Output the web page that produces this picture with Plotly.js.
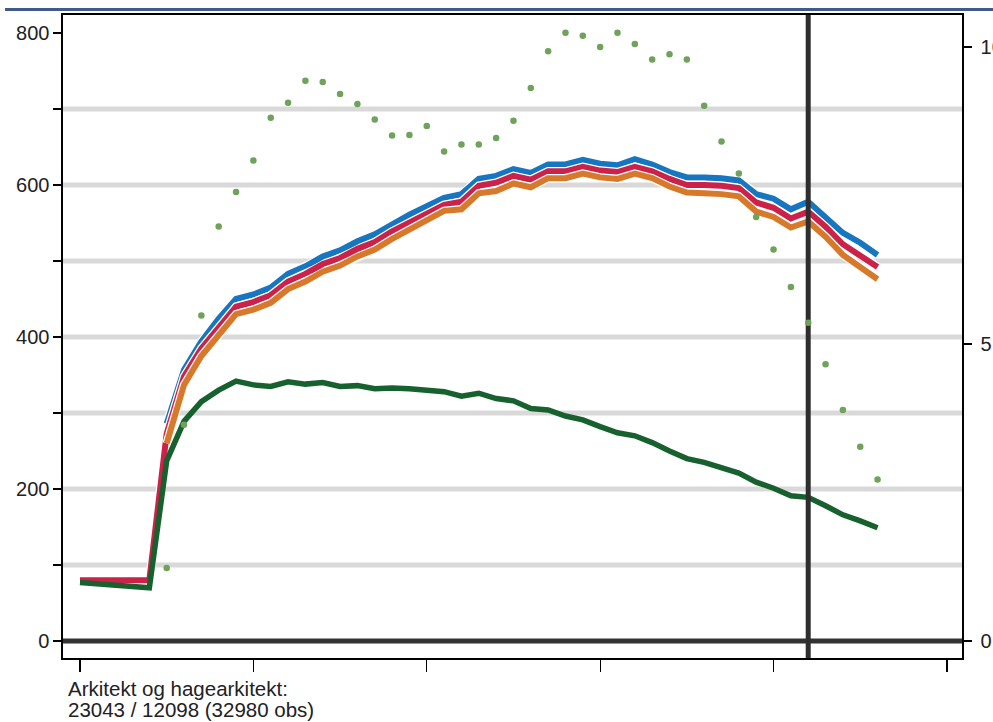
<!DOCTYPE html>
<html>
<head>
<meta charset="utf-8">
<script src="https://cdn.plot.ly/plotly-3.0.1.min.js"></script>
<style>
  html, body { margin: 0; padding: 0; background: #ffffff; }
  #chart { width: 993px; height: 722px; }
</style>
</head>
<body>
<div id="chart"></div>
<script>
// Period index along the horizontal axis
const periodsAll  = [0,1,2,3,4,5,6,7,8,9,10,11,12,13,14,15,16,17,18,19,20,21,22,23,24,25,26,27,28,29,30,31,32,33,34,35,36,37,38,39,40,41,42,43,44,45,46];
const periodsLate = [5,6,7,8,9,10,11,12,13,14,15,16,17,18,19,20,21,22,23,24,25,26,27,28,29,30,31,32,33,34,35,36,37,38,39,40,41,42,43,44,45,46];

// Upper band: three closely spaced series (left axis)
const seriesBlue = [286,357,394,424,450,456,465,483,493,506,514,526,535,549,561,572,583,588,608,612,621,616,627,627,633,628,626,634,627,617,610,610,609,606,588,582,568,578,558,537,524,508];
const seriesRed  = [80,80,80,80,80,
                    273,348,385,414,440,446,455,473,483,496,504,516,525,539,551,562,574,578,599,603,612,607,618,618,624,619,617,624,618,608,600,600,599,596,577,570,556,565,545,522,508,492];
const seriesOrange = [260,337,375,404,430,436,445,463,473,486,494,506,515,529,541,552,566,568,589,592,602,597,609,609,615,610,608,615,609,598,590,589,588,585,565,558,544,552,532,508,493,476];

// Lower series (left axis)
const seriesGreen = [77,75,74,72,70,
                     237,289,315,330,342,337,335,341,338,340,335,336,332,333,332,330,328,322,326,319,316,306,304,296,291,282,274,270,261,250,240,235,228,221,209,201,191,189,178,166,158,149];

// Dotted series (right axis)
const seriesDots = [1.23,3.64,5.48,6.98,7.56,8.09,8.81,9.06,9.43,9.41,9.21,9.04,8.78,8.51,8.52,8.67,8.24,8.36,8.36,8.47,8.76,9.31,9.93,10.24,10.19,10.00,10.24,10.05,9.79,9.88,9.79,9.01,8.41,7.87,7.14,6.59,5.96,5.36,4.66,3.89,3.27,2.72];

// Reference period marked by the vertical rule
const refPeriod = 42;

// Axis ticks and grid
const xTicks = [0,10,20,30,40,50];
const yTicks = [0,200,400,600,800];
const yMinorTicks = [100,300,500,700];
const gridValues = [100,200,300,400,500,600,700];
const y2Ticks = [0,5,10];

// Footnote text
const noteLine1 = 'Arkitekt og hagearkitekt:';
const noteLine2 = '23043 / 12098 (32980 obs)';

const Y_RANGE = [-22.4, 823.7];
const Y2_RANGE = [-0.286, 10.539];
const X_RANGE = [-0.98, 50.87];

const FONT = 'Liberation Sans, Arial, Helvetica, sans-serif';
const LW = 6;
const CASE = 8.5;

function casing(x, y) {
  return { x: x, y: y, type: 'scatter', mode: 'lines', hoverinfo: 'skip', showlegend: false,
           line: { color: '#ffffff', width: CASE, shape: 'linear' } };
}
function band(x, y, color, w) {
  return { x: x, y: y, type: 'scatter', mode: 'lines', showlegend: false,
           line: { color: color, width: w || LW, shape: 'linear' } };
}

const traces = [
  casing(periodsLate, seriesBlue),
  band(periodsLate, seriesBlue, '#1677c0'),
  casing(periodsAll, seriesRed),
  band(periodsAll, seriesRed, '#cc2149'),
  casing(periodsLate, seriesOrange),
  band(periodsLate, seriesOrange, '#d6792b'),
  band(periodsAll, seriesGreen, '#17612f', 5.5),
  { x: [refPeriod, refPeriod], y: Y_RANGE, type: 'scatter', mode: 'lines', showlegend: false,
    hoverinfo: 'skip', line: { color: '#2e2e2e', width: 5 } },
  { x: periodsLate, y: seriesDots, type: 'scatter', mode: 'markers', yaxis: 'y2', showlegend: false,
    marker: { color: '#6fa25a', size: 6.5, line: { width: 0 } } }
];

const shapes = gridValues.map(v => ({
  type: 'line', xref: 'paper', x0: 0, x1: 1, yref: 'y', y0: v, y1: v, layer: 'below',
  line: { color: '#d9d9d9', width: 5 }
}));
shapes.push({ type: 'line', xref: 'paper', x0: 0, x1: 1, yref: 'y', y0: 0, y1: 0, layer: 'below',
              line: { color: '#333333', width: 5 } });
// Header rule above the plot
shapes.push({ type: 'line', xref: 'paper', x0: -0.0645, x1: 1.04, yref: 'paper', y0: 1.0086, y1: 1.0086,
              line: { color: '#415b88', width: 3 } });

const layout = {
  width: 993, height: 722,
  margin: { l: 63, r: 31, t: 15, b: 64, pad: 0 },
  paper_bgcolor: '#ffffff', plot_bgcolor: '#ffffff',
  font: { family: FONT, size: 20, color: '#222222' },
  showlegend: false,
  xaxis: {
    range: X_RANGE, tickmode: 'array', tickvals: xTicks, showticklabels: false,
    ticks: 'outside', ticklen: 12, tickwidth: 1.3, tickcolor: '#000000',
    showgrid: false, zeroline: false,
    showline: true, linecolor: '#000000', linewidth: 1.6, mirror: true
  },
  yaxis: {
    range: Y_RANGE, tickmode: 'array', tickvals: yTicks,
    ticks: 'outside', ticklen: 8, tickwidth: 1.3, tickcolor: '#000000',
    minor: { tickmode: 'array', tickvals: yMinorTicks, ticks: 'outside', ticklen: 8, tickwidth: 1.3, tickcolor: '#000000', showgrid: false },
    showgrid: false, zeroline: false,
    showline: true, linecolor: '#000000', linewidth: 1.6,
    tickfont: { family: FONT, size: 20, color: '#222222' }
  },
  yaxis2: {
    overlaying: 'y', side: 'right', range: Y2_RANGE, tickmode: 'array', tickvals: y2Ticks,
    ticks: 'outside', ticklen: 8, tickwidth: 1.3, tickcolor: '#000000',
    ticklabelstandoff: 5,
    showgrid: false, zeroline: false,
    showline: true, linecolor: '#000000', linewidth: 1.6,
    tickfont: { family: FONT, size: 20, color: '#222222' }
  },
  shapes: shapes,
  annotations: [
    { text: noteLine1, xref: 'paper', yref: 'paper', x: 0.003, y: -0.048, xanchor: 'left', yanchor: 'middle',
      showarrow: false, font: { family: FONT, size: 20.5, color: '#222222' } },
    { text: noteLine2, xref: 'paper', yref: 'paper', x: 0.003, y: -0.080, xanchor: 'left', yanchor: 'middle',
      showarrow: false, font: { family: FONT, size: 20.5, color: '#222222' } }
  ]
};

Plotly.newPlot('chart', traces, layout, { displayModeBar: false, staticPlot: true });
</script>
</body>
</html>
